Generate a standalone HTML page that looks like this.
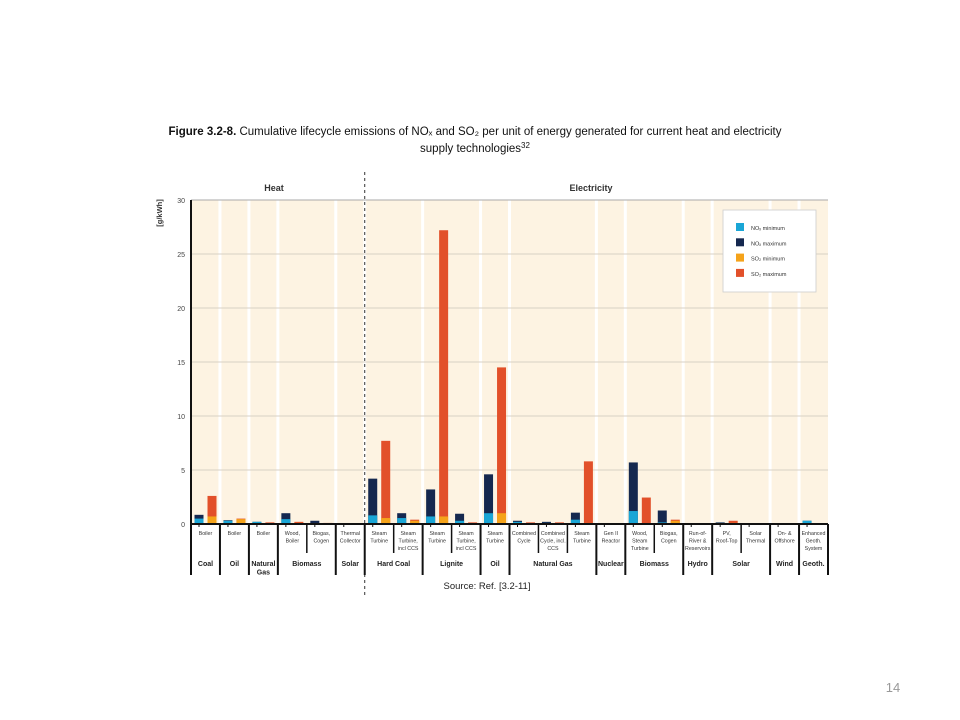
<!DOCTYPE html>
<html><head><meta charset="utf-8"><style>
body{margin:0;background:#fff;width:960px;height:720px;overflow:hidden;font-family:"Liberation Sans",sans-serif}
</style></head><body>
<svg id="c" width="960" height="720" style="position:absolute;left:0;top:0">
<text x="475" y="135" text-anchor="middle" font-size="11.5" fill="#111"><tspan font-weight="bold">Figure 3.2-8.</tspan> Cumulative lifecycle emissions of NOₓ and SO₂ per unit of energy generated for current heat and electricity</text>
<text x="475" y="152" text-anchor="middle" font-size="11.5" fill="#111">supply technologies<tspan font-size="8" dy="-4">32</tspan></text>
<text x="274" y="191" text-anchor="middle" font-size="9" font-weight="bold" fill="#333">Heat</text>
<text x="591" y="191" text-anchor="middle" font-size="9" font-weight="bold" fill="#333">Electricity</text>
<text x="162" y="213" font-size="7.5" font-weight="bold" fill="#333" transform="rotate(-90 162 213)" text-anchor="middle">[g/kWh]</text>
<text x="487" y="589" text-anchor="middle" font-size="9.5" fill="#222">Source: Ref. [3.2-11]</text>
<text x="893" y="692" text-anchor="middle" font-size="13" fill="#999">14</text>
</svg>
<script>
const techLabels=[["Boiler"],["Boiler"],["Boiler"],["Wood,","Boiler"],["Biogas,","Cogen"],["Thermal","Collector"],["Steam","Turbine"],["Steam","Turbine,","incl CCS"],["Steam","Turbine"],["Steam","Turbine,","incl CCS"],["Steam","Turbine"],["Combined","Cycle"],["Combined","Cycle, incl.","CCS"],["Steam","Turbine"],["Gen II","Reactor"],["Wood,","Steam","Turbine"],["Biogas,","Cogen"],["Run-of-","River &","Reservoirs"],["PV,","Roof-Top"],["Solar","Thermal"],["On- &","Offshore"],["Enhanced","Geoth.","System"]];
const groupNames=[["Coal"],["Oil"],["Natural","Gas"],["Biomass"],["Solar"],["Hard Coal"],["Lignite"],["Oil"],["Natural Gas"],["Nuclear"],["Biomass"],["Hydro"],["Solar"],["Wind"],["Geoth."]];
const groupSizes=[1,1,1,2,1,2,2,1,3,1,2,1,2,1,1];
const noxMin=[0.5,0.3,0.2,0.45,0.05,0.05,0.8,0.55,0.7,0.3,1.0,0.2,0.1,0.4,0.02,1.2,0.15,0.02,0.1,0.05,0.05,0.3];
const noxMax=[0.85,0.35,0.2,1.0,0.3,0.05,4.2,1.0,3.2,0.95,4.6,0.3,0.2,1.05,0.03,5.7,1.25,0.04,0.15,0.08,0.08,0.3];
const so2Min=[0.7,0.45,0.05,0.1,0.05,0.05,0.55,0.3,0.7,0.05,1.0,0.05,0.05,0.1,0.02,0.05,0.3,0.02,0.1,0.03,0.02,0.01];
const so2Max=[2.6,0.5,0.15,0.2,0.1,0.08,7.7,0.4,27.2,0.15,14.5,0.15,0.15,5.8,0.03,2.45,0.4,0.03,0.3,0.05,0.03,0.02];
const yTicks=[0,5,10,15,20,25,30];
const legendLabels=["NO\u2093 minimum","NO\u2093 maximum","SO\u2082 minimum","SO\u2082 maximum"];
const colors=["#1aa6d6","#15284f","#f5a31a","#e2502a"];

const svg=document.getElementById('c');const NS="http://www.w3.org/2000/svg";
const X0=191,X1=828,Y0=524,Y1=200,N=techLabels.length,CW=(X1-X0)/N;
const y=v=>Y0-(v/30)*(Y0-Y1);const x=i=>X0+i*CW;
function mk(t,a,p){const e=document.createElementNS(NS,t);for(const k in a)e.setAttribute(k,a[k]);(p||svg).appendChild(e);return e;}
// background
const bg=mk('rect',{x:X0,y:Y1,width:X1-X0,height:Y0-Y1,fill:'#fdf3e2'});


// group separators (white stripes)
let gi=0;const bounds=[0];groupSizes.forEach(s=>{gi+=s;bounds.push(gi);});
bounds.slice(1,-1).forEach(b=>{const s=mk('rect',{x:x(b)-1.5,y:Y1,width:3,height:Y0-Y1,fill:'#fff'});

});
// grid and ticks
yTicks.forEach(t=>{const g=mk('line',{x1:X0,x2:X1,y1:y(t),y2:y(t),stroke:t==30?'#aaa':'#d8d0c4','stroke-width':1});


const l=mk('text',{x:X0-6,y:y(t)+3,'text-anchor':'end','font-size':7,fill:'#444'});l.textContent=t;

});
// dashed divider
const dv=mk('line',{x1:x(6),x2:x(6),y1:172,y2:595,stroke:'#333','stroke-width':1,'stroke-dasharray':'3,3'});


// bars
function bar(i,off,lo,hi,cl,ch,nm){
 const bw=9,bx=x(i)+off;
 const r2=mk('rect',{x:bx,y:y(hi),width:bw,height:Math.max(0,y(0)-y(hi)),fill:ch});
 
 
 const r1=mk('rect',{x:bx,y:y(lo),width:bw,height:Math.max(0,y(0)-y(lo)),fill:cl});
 
 
}
for(let i=0;i<N;i++){bar(i,3.5,noxMin[i],noxMax[i],colors[0],colors[1],'nox');bar(i,16.5,so2Min[i],so2Max[i],colors[2],colors[3],'so2');}
// axes
const ax=mk('line',{x1:X0,x2:X0,y1:Y1,y2:575,stroke:'#111','stroke-width':2});


const bx=mk('line',{x1:X0,x2:X1,y1:Y0,y2:Y0,stroke:'#111','stroke-width':2});


// tech labels and separators
for(let i=0;i<N;i++){
 const isB=bounds.includes(i+1);
 const sl=mk('line',{x1:x(i+1),x2:x(i+1),y1:Y0,y2:isB?575:553,stroke:'#111','stroke-width':isB?2:1.5});
 
 
 const tk=mk('line',{x1:x(i)+8,x2:x(i)+8,y1:Y0,y2:Y0+3,stroke:'#111','stroke-width':1});
 
 
 techLabels[i].forEach((s,k)=>{const t=mk('text',{x:x(i)+CW/2,y:Y0+11+k*7.5,'text-anchor':'middle','font-size':5.3,fill:'#333'});t.textContent=s;
 
 });
}
groupNames.forEach((g,j)=>{const cx=(x(bounds[j])+x(bounds[j+1]))/2;
 g.forEach((s,k)=>{const t=mk('text',{x:cx,y:566+k*8.5,'text-anchor':'middle','font-size':7,'font-weight':'bold',fill:'#222'});t.textContent=s;
 
 });});
// legend
const lg=mk('g',{});
mk('rect',{x:723,y:210,width:93,height:82,fill:'#fff',stroke:'#ccc','stroke-width':0.8},lg);
legendLabels.forEach((s,k)=>{const g=mk('g',{},lg);
 
 
 mk('rect',{x:736,y:223+k*15.3,width:8,height:8,fill:colors[k]},g);
 const t=mk('text',{x:751,y:230+k*15.3,'font-size':5.5,fill:'#333'},g);t.textContent=s;});
</script>
</body></html>
